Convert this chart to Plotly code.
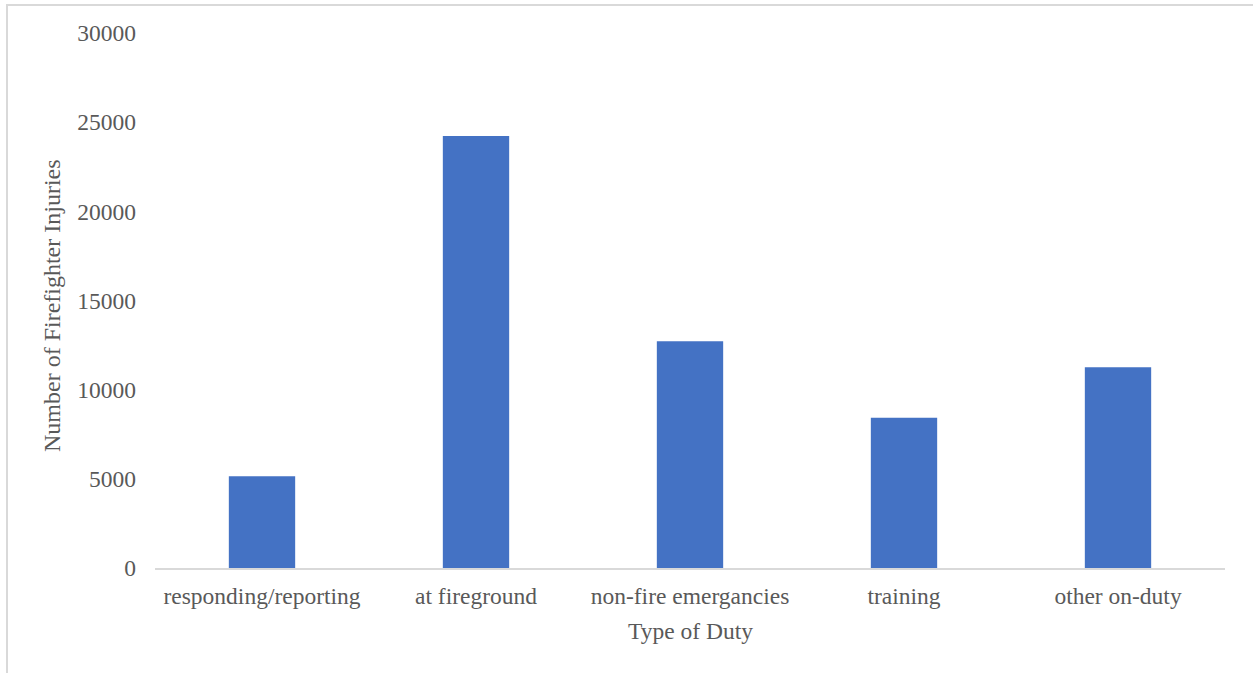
import plotly.graph_objects as go

# Firefighter injuries by type of duty
duty_types = [
    "responding/reporting",
    "at fireground",
    "non-fire emergancies",
    "training",
    "other on-duty",
]
injuries = [5150, 24220, 12720, 8420, 11260]

y_ticks = [0, 5000, 10000, 15000, 20000, 25000, 30000]

FONT = "Liberation Serif"
TEXT_GREY = "#595959"
BAR_BLUE = "#4472C4"

W, H = 1253, 673
L, R, T, B = 155, 28, 33, 105
plot_w = W - L - R
plot_h = H - T - B

fig = go.Figure(
    go.Bar(
        x=duty_types,
        y=injuries,
        marker=dict(color=BAR_BLUE, line=dict(width=0)),
        width=0.31,
    )
)

fig.update_layout(
    width=W,
    height=H,
    margin=dict(l=L, r=R, t=T, b=B, pad=0),
    paper_bgcolor="white",
    plot_bgcolor="white",
    showlegend=False,
    font=dict(family=FONT, size=23.5, color=TEXT_GREY),
    bargap=0.69,
)

fig.update_xaxes(
    showline=True,
    linecolor="#d9d9d9",
    linewidth=2,
    showgrid=False,
    ticks="",
    ticklabelstandoff=6,
    tickfont=dict(family=FONT, size=23.5, color=TEXT_GREY),
)

fig.update_yaxes(
    range=[0, 30000],
    tickvals=y_ticks,
    ticktext=[str(v) for v in y_ticks],
    showgrid=False,
    showline=False,
    zeroline=False,
    ticks="",
    ticklabelstandoff=18,
    tickfont=dict(family=FONT, size=23.5, color=TEXT_GREY),
)

# Axis titles
fig.add_annotation(
    text="Type of Duty",
    xref="paper", yref="paper",
    x=0.5, y=-(631 - (H - B)) / plot_h,
    xanchor="center", yanchor="middle",
    showarrow=False,
    font=dict(family=FONT, size=23.5, color=TEXT_GREY),
)
fig.add_annotation(
    text="Number of Firefighter Injuries",
    xref="paper", yref="paper",
    x=(52 - L) / plot_w, y=((H - B) - 306) / plot_h,
    xanchor="center", yanchor="middle",
    textangle=-90,
    showarrow=False,
    font=dict(family=FONT, size=24, color=TEXT_GREY),
)

# Chart frame
fig.add_shape(
    type="rect",
    xref="paper", yref="paper",
    x0=(7 - L) / plot_w, x1=(W + 5 - L) / plot_w,
    y0=-(H + 5 - (H - B)) / plot_h, y1=((H - B) - 5) / plot_h,
    line=dict(color="#d9d9d9", width=2),
    fillcolor="rgba(0,0,0,0)",
    layer="below",
)

fig.write_html("out.html")
